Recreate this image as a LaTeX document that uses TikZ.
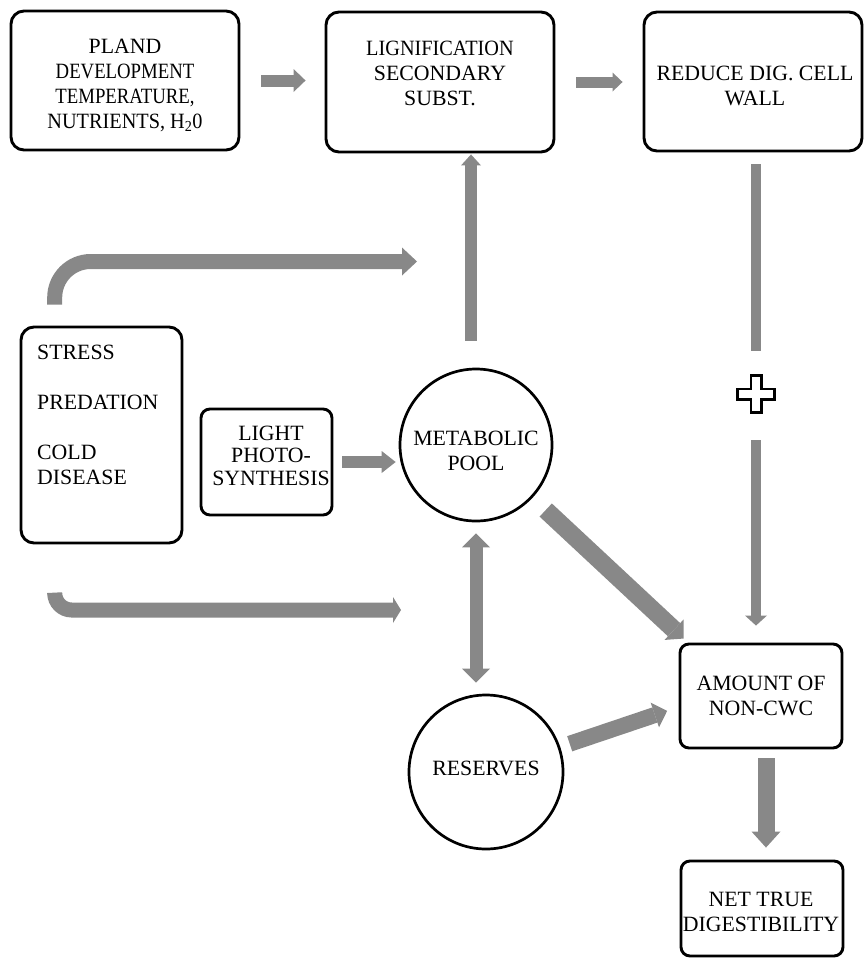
\documentclass[tikz,border=0pt]{standalone}
\usepackage{fontspec}
\setmainfont{Liberation Serif}
\newfontfamily\narrowfont{Liberation Serif}[FakeStretch=0.86]
\newfontfamily\semifont{Liberation Serif}[FakeStretch=0.93]
\usetikzlibrary{arrows.meta,calc}
\definecolor{flowgray}{RGB}{136,136,136}
\newcommand\diagfont{\fontsize{21.8pt}{25pt}\selectfont}

\begin{document}
\begin{tikzpicture}[x=1pt,y=-1pt,
  every node/.style={font=\diagfont},
  box/.style={draw, line width=2.9pt, rounded corners=13pt, align=center, inner sep=0pt},
  smallbox/.style={box, rounded corners=9pt},
  pool/.style={draw, circle, line width=2.7pt, inner sep=0pt, minimum size=152pt},
  caption/.style={align=center, inner sep=0pt},
  flow/.style={draw=flowgray, line width=#1},
  blockhead/.style 2 args={-{Triangle[length=#1,width=#2,line width=0pt]}},
  bothheads/.style 2 args={{Triangle[length=#1,width=#2,line width=0pt]}-{Triangle[length=#1,width=#2,line width=0pt]}},
]
\fill[white] (0,0) rectangle (865,959);
\useasboundingbox (0,0) rectangle (865,959);

% boxes and pools
\node[box, minimum width=228pt, minimum height=139pt] (plant) at (125,80.5) {};
\node[caption] (planttext) at (125,85)
  {PLAND\\{\narrowfont DEVELOPMENT}\\{\narrowfont TEMPERATURE,}\\{\semifont NUTRIENTS, H\textsubscript{2}0}};
\node[box, minimum width=228pt, minimum height=140pt] (lign) at (440,82) {};
\node[caption] (ligntext) at (440,73.5) {{\semifont LIGNIFICATION}\\SECONDARY\\SUBST.};
\node[box, minimum width=218pt, minimum height=139pt] (wall) at (753,81.5) {};
\node[caption] (walltext) at (755,86) {REDUCE DIG. CELL\\WALL};
\node[box, minimum width=161pt, minimum height=216pt] (stress) at (101.5,435) {};
\node[anchor=north west, align=left, inner sep=0pt] (stresstext) at (37,345)
  {STRESS\\[25pt]PREDATION\\[25pt]COLD\\DISEASE};
\node[smallbox, minimum width=131pt, minimum height=106pt] (light) at (266.5,462) {};
\node[caption, font=\fontsize{21.8pt}{22.5pt}\selectfont] (lighttext) at (271,455.5) {LIGHT\\PHOTO-\\SYNTHESIS};
\node[pool] (metab) at (476,445) {};
\node[caption] (metabtext) at (476,451) {METABOLIC\\POOL};
\node[pool, minimum size=154pt] (res) at (486,772) {};
\node[caption] (restext) at (486,768) {RESERVES};
\node[smallbox, minimum width=162pt, minimum height=104pt] (amount) at (761,696) {AMOUNT OF\\NON-CWC};
\node[smallbox, minimum width=162pt, minimum height=95pt] (net) at (762,908.5) {};
\node[caption] (nettext) at (761,911.5) {NET TRUE\\DIGESTIBILITY};
\node[minimum size=40pt, inner sep=0pt] (plus) at (756,394) {};

% free ends of the two side arrows
\coordinate (topend) at (417,261.5);
\coordinate (botend) at (401,610);

% connectors
\draw[flow=12pt, blockhead={12pt}{23pt}, shorten <=21pt, shorten >=19pt] (plant.east) -- (plant.east -| lign.west);
\draw[flow=11pt, blockhead={10pt}{19pt}, shorten <=21pt, shorten >=20pt] (lign.east) -- (lign.east -| wall.west);
\draw[flow=12pt, blockhead={11pt}{20pt}, shorten <=27pt, shorten >=1pt] ([xshift=-5pt]metab.north) -- ([xshift=-5pt]metab.north |- lign.south);
\draw[flow=12pt, blockhead={14pt}{22pt}, shorten <=9pt, shorten >=3pt] (light.east) -- (light.east -| metab.west);
\draw[flow=15pt, blockhead={15pt}{28pt}, rounded corners=36pt, shorten <=21pt] ([xshift=-46.8pt]stress.north) |- (topend);
\draw[flow=15pt, blockhead={8pt}{26pt}, rounded corners=17pt, shorten <=50pt] ([xshift=-46.8pt]stress.south) |- (botend);
\draw[flow=18pt, blockhead={13pt}{28pt}, shorten <=18pt] (metab) -- ([shift={(5,-4)}]amount.north west);
\draw[flow=13pt, bothheads={14pt}{28pt}, shorten <=11pt, shorten >=11pt] (metab.south) -- (metab.south |- res.north);
\draw[flow=16pt, blockhead={13pt}{26pt}, shorten <=10pt, shorten >=12pt] (res) -- ([yshift=-11pt]amount.west);
\draw[flow=10pt, shorten <=12pt, shorten >=23pt] (wall.south -| plus) -- (plus.north);
\draw[flow=10pt, blockhead={10pt}{22pt}, shorten <=26pt, shorten >=17pt] (plus.south) -- (plus |- amount.north);
\draw[flow=17pt, blockhead={16pt}{29pt}, shorten <=9pt, shorten >=12pt] ([xshift=5pt]amount.south) -- ([xshift=5pt]amount.south |- net.north);

% plus sign between the two segments
\draw[line width=2.8pt, fill=white, shift={(plus)}]
  (-5.1,-18.6) -- (5.1,-18.6) -- (5.1,-5.1) -- (18.6,-5.1) -- (18.6,5.1) -- (5.1,5.1)
  -- (5.1,18.6) -- (-5.1,18.6) -- (-5.1,5.1) -- (-18.6,5.1) -- (-18.6,-5.1) -- (-5.1,-5.1) -- cycle;
\end{tikzpicture}
\end{document}
